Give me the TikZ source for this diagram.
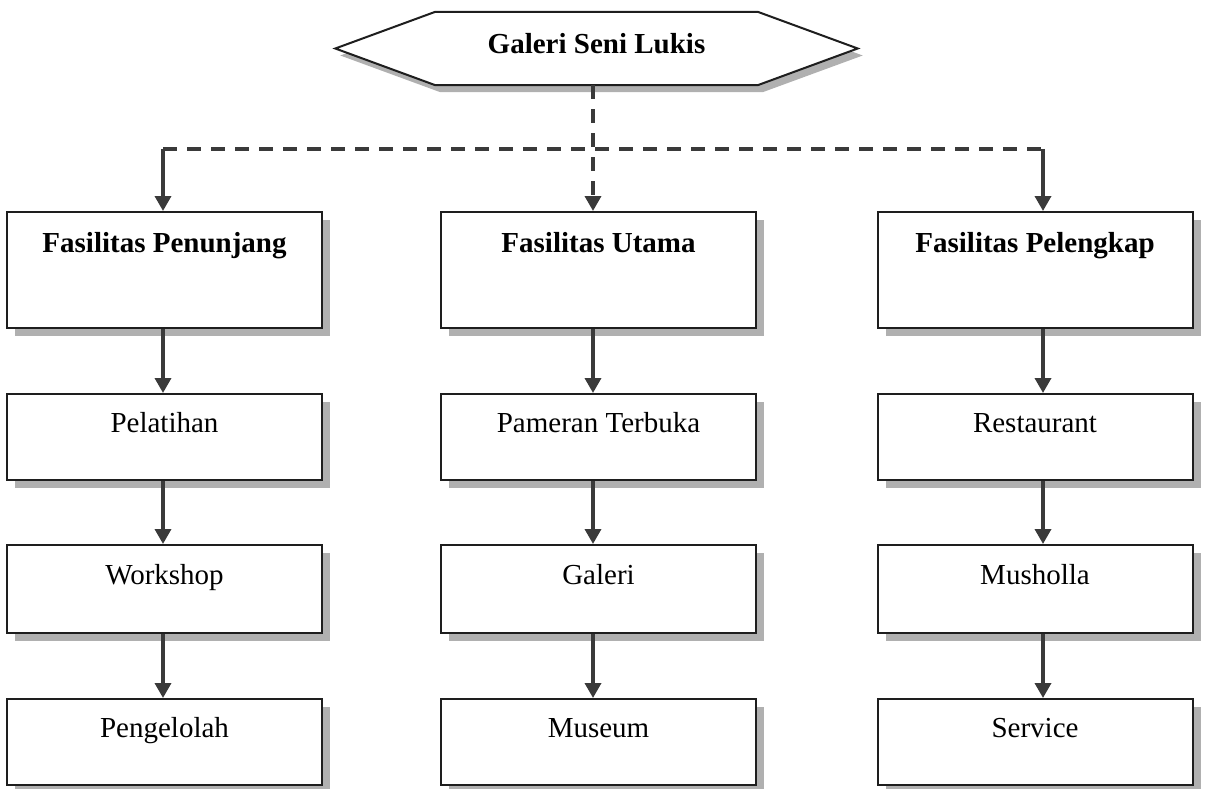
\documentclass[tikz,border=0pt]{standalone}
\usepackage{fontspec}
\setmainfont{Liberation Serif}
\usetikzlibrary{arrows.meta,shadows,calc,backgrounds}

\definecolor{linegray}{HTML}{3A3A3A}
\definecolor{shadowgray}{HTML}{B0B0B0}
\definecolor{edgeblack}{HTML}{1E1E1E}

\tikzset{
  boxshadow/.style={drop shadow={shadow xshift=8pt, shadow yshift=-8pt, fill=shadowgray, opacity=1}},
  box/.style={draw=edgeblack, line width=2pt, fill=white, minimum width=315pt,
    inner xsep=0pt, inner ysep=0pt, text height=38pt, anchor=north,
    font=\fontsize{29}{34}\selectfont, boxshadow},
  head/.style={box, text height=40pt, font=\fontsize{29}{34}\selectfont\bfseries},
  tip/.style={-{Triangle[width=16pt,length=15pt]}},
  flow/.style={draw=linegray, line width=3.5pt, tip},
  dashlink/.style={draw=linegray, line width=3.5pt, dash pattern=on 14pt off 10pt},
}

\begin{document}
\begin{tikzpicture}[x=1pt,y=-1pt]
\useasboundingbox (0,0) rectangle (1205,789);

% title hexagon: the node carries the text, the outline is drawn behind it
\node (hex) at (596.5,48.5) [minimum width=322pt, inner sep=0pt,
  text height=42pt, text depth=31pt, font=\fontsize{29}{34}\selectfont\bfseries]
  {Galeri Seni Lukis};
\begin{scope}[on background layer]
\draw[draw=edgeblack, line width=2pt, fill=white,
      drop shadow={shadow xshift=5pt, shadow yshift=-7pt, fill=shadowgray, opacity=1}]
  (hex.north west) -- (hex.north east) -- ($(hex.east)+(100,0)$)
  -- (hex.south east) -- (hex.south west) -- ($(hex.west)+(-100,0)$) -- cycle;
\end{scope}

% column headers
\node[head, text depth=76pt] (h1) at (164.5,211) {Fasilitas Penunjang};
\node[head, text depth=76pt] (h2) at (598.5,211) {Fasilitas Utama};
\node[head, text depth=76pt] (h3) at (1035,211) {Fasilitas Pelengkap};

% column 1
\node[box, text depth=48pt] (a1) at (164.5,393) {Pelatihan};
\node[box, text height=39pt, text depth=49pt] (a2) at (164.5,544) {Workshop};
\node[box, text depth=48pt] (a3) at (164.5,698) {Pengelolah};

% column 2
\node[box, text depth=48pt] (b1) at (598.5,393) {Pameran Terbuka};
\node[box, text height=39pt, text depth=49pt] (b2) at (598.5,544) {Galeri};
\node[box, text depth=48pt] (b3) at (598.5,698) {Museum};

% column 3
\node[box, text depth=48pt] (c1) at (1035,393) {Restaurant};
\node[box, text height=39pt, text depth=49pt] (c2) at (1035,544) {Musholla};
\node[box, text depth=48pt] (c3) at (1035,698) {Service};

% connector columns
\coordinate (x1) at (163,149);
\coordinate (x2) at (593,149);
\coordinate (x3) at (1043,149);

% branching from the title
\draw[dashlink] (x1) -- (x3);
\draw[dashlink, tip] (hex.south -| x2) -- (h2.north -| x2);
\draw[flow] (x1) -- (h1.north -| x1);
\draw[flow] (x3) -- (h3.north -| x3);

% downward chains
\draw[flow] (h1.south -| x1) -- (a1.north -| x1);
\draw[flow] (a1.south -| x1) -- (a2.north -| x1);
\draw[flow] (a2.south -| x1) -- (a3.north -| x1);

\draw[flow] (h2.south -| x2) -- (b1.north -| x2);
\draw[flow] (b1.south -| x2) -- (b2.north -| x2);
\draw[flow] (b2.south -| x2) -- (b3.north -| x2);

\draw[flow] (h3.south -| x3) -- (c1.north -| x3);
\draw[flow] (c1.south -| x3) -- (c2.north -| x3);
\draw[flow] (c2.south -| x3) -- (c3.north -| x3);
\end{tikzpicture}
\end{document}
